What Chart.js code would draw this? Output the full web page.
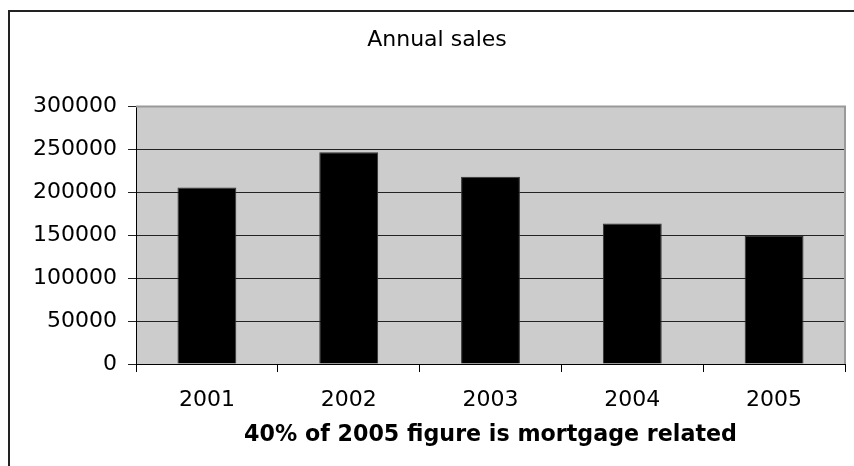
<!DOCTYPE html>
<html>
<head>
<meta charset="utf-8">
<script src="https://cdn.jsdelivr.net/npm/chart.js@4/dist/chart.umd.min.js"></script>
<style>
  html, body { margin: 0; padding: 0; background: #fff; overflow: hidden; }
  #wrap { position: relative; width: 854px; height: 466px; }
  #frame { position: absolute; left: 8px; top: 10px; width: 900px; height: 500px;
           border-left: 2px solid #222; border-top: 2px solid #222; }
  canvas { position: absolute; left: 0; top: 0; }
</style>
</head>
<body>
<div id="wrap">
  <div id="frame"></div>
  <canvas id="salesChart" width="854" height="466"></canvas>
</div>
<script>
  // ===== Data =====
  const years = ["2001", "2002", "2003", "2004", "2005"];
  const sales = [205500, 246500, 218000, 163500, 149000];
  const yTicks = [0, 50000, 100000, 150000, 200000, 250000, 300000];

  const FONT = "'DejaVu Sans', Verdana, sans-serif";

  // gray plot background + right border
  const plotBg = {
    id: "plotBg",
    beforeDraw(chart) {
      const { ctx, chartArea: a } = chart;
      ctx.save();
      ctx.fillStyle = "#cccccc";
      ctx.fillRect(a.left, a.top, a.right - a.left, a.bottom - a.top);
      ctx.restore();
    },
    beforeDatasetsDraw(chart) {
      const { ctx, chartArea: a } = chart;
      ctx.save();
      ctx.strokeStyle = "#999";
      ctx.lineWidth = 2;
      ctx.beginPath();
      ctx.moveTo(a.left, a.top);
      ctx.lineTo(a.right, a.top);
      ctx.lineTo(a.right, a.bottom);
      ctx.stroke();
      ctx.restore();
    }
  };

  new Chart(document.getElementById("salesChart"), {
    type: "bar",
    data: {
      labels: years,
      datasets: [{
        data: sales,
        backgroundColor: "#000",
        borderColor: "#333",
        borderWidth: 1,
        barPercentage: 0.415,
        categoryPercentage: 1
      }]
    },
    options: {
      responsive: false,
      animation: false,
      layout: { padding: { left: 29, right: 9, top: 0, bottom: 0 } },
      plugins: {
        legend: { display: false },
        tooltip: { enabled: false },
        title: {
          display: true,
          text: "Annual sales",
          color: "#000",
          font: { family: FONT, size: 22, weight: "normal" },
          padding: { top: 27, bottom: 53 }
        }
      },
      scales: {
        x: {
          grid: { offset: true, drawOnChartArea: false, drawTicks: true, tickLength: 8, color: "#000" },
          border: { color: "#000", width: 1 },
          ticks: { color: "#000", font: { family: FONT, size: 22 }, padding: 15, maxRotation: 0 },
          title: {
            display: true,
            text: "40% of 2005 figure is mortgage related",
            color: "#000",
            font: { family: FONT, size: 22.2, weight: "bold" },
            padding: { top: 0, bottom: 17 }
          },
          afterFit(scale) { scale.height = 102; }
        },
        y: {
          min: 0,
          max: 300000,
          afterBuildTicks(scale) { scale.ticks = yTicks.map(v => ({ value: v })); },
          grid: { color: "#222", lineWidth: 1, drawTicks: true, tickLength: 8 },
          border: { color: "#000", width: 1 },
          ticks: {
            color: "#000",
            font: { family: FONT, size: 22 },
            padding: 11,
            callback: (v) => String(v)
          },
          afterFit(scale) { scale.width = 107; }
        }
      }
    },
    plugins: [plotBg]
  });
</script>
</body>
</html>
